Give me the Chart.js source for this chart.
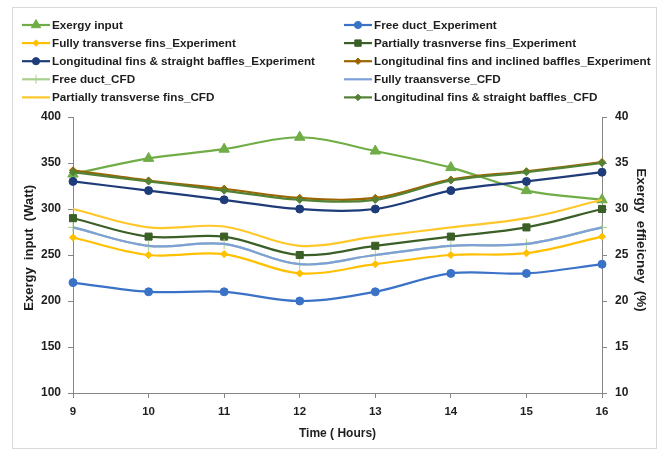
<!DOCTYPE html>
<html>
<head>
<meta charset="utf-8">
<script src="https://cdn.jsdelivr.net/npm/chart.js@4.4.0/dist/chart.umd.min.js"></script>
<style>
  html, body { margin: 0; padding: 0; background: #fff; }
</style>
</head>
<body>
<canvas id="myChart" width="669" height="452"></canvas>
<script>
// hours on the x axis
const hours = ["9", "10", "11", "12", "13", "14", "15", "16"];

// left axis (Watt)
const exergyInput = [338, 355, 365, 378, 363, 345, 320, 310];

// right axis (%)
const freeDuctExp = [22, 21, 21, 20, 21, 23, 23, 24];
const fullyExp = [26.9, 25, 25.1, 23, 24, 25, 25.2, 27];
const partiallyExp = [29, 27, 27, 25, 26, 27, 28, 30];
const longStraightExp = [33, 32, 31, 30, 30, 32, 33, 34];
const longInclinedExp = [34.2, 33.1, 32.2, 31.2, 31.2, 33.2, 34.1, 35.1];
const freeDuctCfd = [28, 26, 26.2, 24, 25, 26, 26.2, 28];
const fullyCfd = [28, 26, 26.2, 24, 25, 26, 26.2, 28];
const partiallyCfd = [30, 28, 28.1, 26, 27, 28, 29, 31];
const longStraightCfd = [34, 33, 32, 31, 31, 33.1, 34, 35];

const leftTicks = [100, 150, 200, 250, 300, 350, 400];
const rightTicks = [10, 15, 20, 25, 30, 35, 40];

const FONT = "'Liberation Sans', Arial, sans-serif";
const axisColor = "#868686";
const textColor = "#1e1e1e";

function series(label, data, color, axis, style, radius, i) {
  return {
    label: label,
    data: data,
    yAxisID: axis,
    borderColor: color,
    backgroundColor: color,
    pointBackgroundColor: color,
    pointBorderColor: color,
    borderWidth: 2.2,
    pointStyle: style,
    pointRadius: radius,
    pointBorderWidth: 1,
    tension: 0.35,
    fill: false,
    order: 20 - i,
  };
}

const datasets = [
  series("Exergy input", exergyInput, "#70AD47", "y", "triangle", 6, 0),
  series("Free duct_Experiment", freeDuctExp, "#3A72C8", "y1", "circle", 4, 1),
  series("Fully transverse fins_Experiment", fullyExp, "#FFC000", "y1", "rectRot", 3.6, 2),
  series("Partially trasnverse fins_Experiment", partiallyExp, "#3A5F27", "y1", "rect", 5, 3),
  series("Longitudinal fins & straight baffles_Experiment", longStraightExp, "#1F3C7A", "y1", "circle", 4, 4),
  series("Longitudinal fins and inclined baffles_Experiment", longInclinedExp, "#9C6500", "y1", "rectRot", 3.6, 5),
  series("Free duct_CFD", freeDuctCfd, "#A9D18E", "y1", "cross", 5, 6),
  series("Fully traansverse_CFD", fullyCfd, "#7EA0DA", "y1", false, 0, 7),
  series("Partially transverse fins_CFD", partiallyCfd, "#FFC72A", "y1", false, 0, 8),
  series("Longitudinal fins & straight baffles_CFD", longStraightCfd, "#548235", "y1", "rectRot", 3.6, 9),
];

const framePlugin = {
  id: "frame",
  beforeDraw(chart) {
    const ctx = chart.ctx;
    ctx.save();
    ctx.fillStyle = "#fff";
    ctx.fillRect(0, 0, chart.width, chart.height);
    ctx.strokeStyle = "#d9d9d9";
    ctx.lineWidth = 1;
    ctx.strokeRect(12.5, 7.5, 644, 441);
    ctx.restore();
  },
};

// two column legend above the plot, like the excel one
const legendPlugin = {
  id: "twoColLegend",
  afterDraw(chart) {
    const ctx = chart.ctx;
    ctx.save();
    ctx.font = "bold 11.7px " + FONT;
    ctx.textBaseline = "middle";
    chart.data.datasets.forEach((ds, i) => {
      const x = i % 2 === 0 ? 22 : 344;
      const y = 25 + Math.floor(i / 2) * 18.1;
      ctx.strokeStyle = ds.borderColor;
      ctx.lineWidth = 2.2;
      ctx.beginPath();
      ctx.moveTo(x, y);
      ctx.lineTo(x + 28, y);
      ctx.stroke();
      if (ds.pointStyle) {
        ctx.fillStyle = ds.pointBackgroundColor;
        ctx.lineWidth = 1;
        Chart.helpers.drawPoint(ctx, { pointStyle: ds.pointStyle, radius: ds.pointRadius * 0.9, rotation: 0, borderWidth: 1 }, x + 14, y);
      }
      ctx.fillStyle = textColor;
      ctx.fillText(ds.label, x + 30, y + 0.5);
    });
    ctx.restore();
  },
};

const tickFont = { family: FONT, size: 12, weight: "bold" };
const titleFont = { family: FONT, size: 13, weight: "bold" };

new Chart(document.getElementById("myChart"), {
  type: "line",
  data: { labels: hours, datasets: datasets },
  options: {
    responsive: false,
    animation: false,
    layout: { padding: { left: 13, right: 13, top: 117, bottom: 7 } },
    plugins: {
      legend: { display: false },
      tooltip: { enabled: false },
    },
    scales: {
      x: {
        type: "category",
        offset: false,
        grid: { drawOnChartArea: false, tickLength: 5, color: axisColor },
        border: { color: axisColor },
        ticks: { font: { family: FONT, size: 11.5, weight: "bold" }, color: textColor, padding: 7, maxRotation: 0 },
        title: { display: true, text: "Time ( Hours)", font: { family: FONT, size: 12, weight: "bold" }, color: textColor, padding: { top: 0, bottom: 4 } },
        afterFit(s) { s.height = 52; },
      },
      y: {
        position: "left",
        min: leftTicks[0],
        max: leftTicks[leftTicks.length - 1],
        afterBuildTicks(s) { s.ticks = leftTicks.map((v) => ({ value: v })); },
        grid: { drawOnChartArea: false, tickLength: 5, color: axisColor },
        border: { color: axisColor },
        ticks: { font: tickFont, color: textColor, padding: 7 },
        title: { display: true, text: "    Exergy  input  (Watt)", font: titleFont, color: textColor, padding: { top: 9, bottom: 0 } },
        afterFit(s) { s.width = 60; },
      },
      y1: {
        position: "right",
        min: rightTicks[0],
        max: rightTicks[rightTicks.length - 1],
        afterBuildTicks(s) { s.ticks = rightTicks.map((v) => ({ value: v })); },
        grid: { drawOnChartArea: false, tickLength: 5, color: axisColor },
        border: { color: axisColor },
        ticks: { font: tickFont, color: textColor, padding: 8 },
        title: { display: true, text: "Exergy  effieicney  (%)        ", font: { family: FONT, size: 13.5, weight: "bold" }, color: textColor, padding: { top: 7, bottom: 0 } },
        afterFit(s) { s.width = 54; },
      },
    },
  },
  plugins: [framePlugin, legendPlugin],
});
</script>
</body>
</html>
